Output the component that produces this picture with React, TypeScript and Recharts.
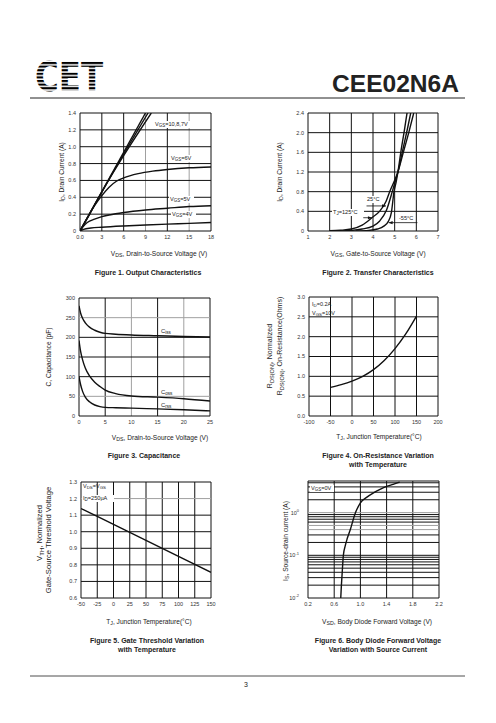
import React from "react";
import { LineChart, Line, XAxis, YAxis, ReferenceLine } from "recharts";

const FONT = '"Liberation Sans", Arial, Helvetica, sans-serif';
const INK = "#111";
const GREY = "#a0a0a0";

// Figure 1 - output characteristics
const F1_X_TICKS = [0, 3, 6, 9, 12, 15, 18];
const F1_X_LABELS = ["0.0", "3", "6", "9", "12", "15", "18"];
const F1_Y_TICKS = [0, 0.2, 0.4, 0.6, 0.8, 1.0, 1.2, 1.4];
const F1_Y_LABELS = ["0", "0.2", "0.4", "0.6", "0.8", "1.0", "1.2", "1.4"];
const F1_VDS_10V = [0, 9.0];
const F1_ID_10V = [0, 1.4];
const F1_VDS_8V = [0, 4.5, 9.35];
const F1_ID_8V = [0, 0.69, 1.4];
const F1_VDS_7V = [0, 4.5, 9.8];
const F1_ID_7V = [0, 0.685, 1.4];
const F1_VDS_6V = [0, 1, 2, 3, 4, 5, 6, 8, 10, 12, 15, 18];
const F1_ID_6V = [0, 0.15, 0.3, 0.42, 0.52, 0.59, 0.63, 0.68, 0.71, 0.73, 0.75, 0.76];
const F1_VDS_5V = [0, 0.5, 1, 2, 3, 4, 6, 9, 12, 15, 18];
const F1_ID_5V = [0, 0.06, 0.1, 0.14, 0.17, 0.19, 0.22, 0.25, 0.27, 0.29, 0.3];
const F1_VDS_4V = [0, 0.5, 1.5, 3, 6, 9, 12, 15, 18];
const F1_ID_4V = [0, 0.02, 0.035, 0.045, 0.06, 0.072, 0.082, 0.09, 0.1];

// Figure 2 - transfer characteristics
const F2_X_TICKS = [1, 2, 3, 4, 5, 6, 7];
const F2_X_LABELS = ["1", "2", "3", "4", "5", "6", "7"];
const F2_Y_TICKS = [0, 0.4, 0.8, 1.2, 1.6, 2.0, 2.4];
const F2_Y_LABELS = ["0", "0.4", "0.8", "1.2", "1.6", "2.0", "2.4"];
const F2_VGS_125C = [2, 2.5, 3, 3.5, 3.95, 4.3, 4.6, 4.77, 5.0, 5.15, 5.4, 5.65, 5.88];
const F2_ID_125C = [0.005, 0.015, 0.04, 0.12, 0.27, 0.4, 0.6, 0.8, 1.03, 1.2, 1.6, 2.0, 2.4];
const F2_VGS_25C = [2.5, 3, 3.5, 4, 4.3, 4.62, 4.89, 5.0, 5.15, 5.4, 5.6, 5.74];
const F2_ID_25C = [0.003, 0.012, 0.04, 0.1, 0.2, 0.42, 0.8, 0.97, 1.2, 1.7, 2.1, 2.4];
const F2_VGS_M55C = [3.2, 3.8, 4.2, 4.5, 4.7, 4.85, 4.97, 5.07, 5.15, 5.3, 5.45, 5.57];
const F2_ID_M55C = [0.002, 0.012, 0.04, 0.1, 0.19, 0.38, 0.8, 1.0, 1.2, 1.65, 2.05, 2.4];

// Figure 3 - capacitance
const F3_X_TICKS = [0, 5, 10, 15, 20, 25];
const F3_X_LABELS = ["0", "5", "10", "15", "20", "25"];
const F3_Y_TICKS = [0, 50, 100, 150, 200, 250, 300];
const F3_Y_LABELS = ["0", "50", "100", "150", "200", "250", "300"];
const F3_VDS = [0, 0.3, 0.7, 1.2, 2, 3, 4, 5, 7, 10, 15, 20, 25];
const F3_CISS = [280, 262, 248, 237, 226, 218, 213, 210, 208, 206, 204, 202, 201];
const F3_COSS = [192, 165, 142, 122, 102, 86, 75, 66, 57, 51, 48, 44, 38];
const F3_CRSS = [100, 80, 62, 48, 36, 28, 24, 22, 21, 20, 18, 16, 13];

// Figure 4 - on-resistance vs temperature
const F4_X_TICKS = [-100, -50, 0, 50, 100, 150, 200];
const F4_X_LABELS = ["-100", "-50", "0", "50", "100", "150", "200"];
const F4_Y_TICKS = [0, 0.5, 1.0, 1.5, 2.0, 2.5, 3.0];
const F4_Y_LABELS = ["0.0", "0.5", "1.0", "1.5", "2.0", "2.5", "3.0"];
const F4_TJ = [-50, -25, 0, 25, 50, 75, 100, 125, 150];
const F4_RDS = [0.72, 0.79, 0.88, 1.0, 1.17, 1.4, 1.7, 2.07, 2.52];

// Figure 5 - gate threshold vs temperature
const F5_X_TICKS = [-50, -25, 0, 25, 50, 75, 100, 125, 150];
const F5_X_LABELS = ["-50", "-25", "0", "25", "50", "75", "100", "125", "150"];
const F5_Y_TICKS = [0.6, 0.7, 0.8, 0.9, 1.0, 1.1, 1.2, 1.3];
const F5_Y_LABELS = ["0.6", "0.7", "0.8", "0.9", "1.0", "1.1", "1.2", "1.3"];
const F5_TJ = [-50, 0, 50, 100, 150];
const F5_VTH = [1.14, 1.044, 0.948, 0.851, 0.755];

// Figure 6 - body diode forward voltage
const F6_X_TICKS = [0.2, 0.6, 1.0, 1.4, 1.8, 2.2];
const F6_X_LABELS = ["0.2", "0.6", "1.0", "1.4", "1.8", "2.2"];
const F6_Y_TICKS = [0.01, 0.1, 1];
const F6_Y_EXPONENTS = ["-2", "-1", "0"];
const F6_Y_GRID = [0.01, 0.02, 0.03, 0.04, 0.05, 0.06, 0.07, 0.08, 0.09, 0.1, 0.2, 0.3, 0.4, 0.5, 0.6, 0.7, 0.8, 0.9, 1, 2, 3, 4, 5, 5.5];
const F6_VSD = [0.7, 0.71, 0.72, 0.74, 0.77, 0.8, 0.85, 0.92, 1.0, 1.1, 1.2, 1.3, 1.4, 1.5, 1.6];
const F6_IS = [0.01, 0.02, 0.035, 0.1, 0.17, 0.25, 0.42, 0.95, 1.7, 2.3, 2.9, 3.5, 4.1, 4.6, 5.2];

type Series = { x: number[]; y: number[] };

const toPts = (xs: number[], ys: number[]) => xs.map((x, i) => ({ x, y: ys[i] }));

const arrowLine = (p: any) => {
  const { x1, y1, x2, y2 } = p;
  const d = x2 > x1 ? 1 : -1;
  return (
    <g>
      <line x1={x1} y1={y1} x2={x2} y2={y2} stroke={INK} strokeWidth={0.8} />
      <path d={`M${x2},${y2} L${x2 - d * 4},${y2 - 1.6} L${x2 - d * 4},${y2 + 1.6} Z`} fill={INK} />
    </g>
  );
};

const logTick = (props: any) => {
  const { x, y, payload } = props;
  const exp = F6_Y_EXPONENTS[F6_Y_TICKS.indexOf(payload.value)];
  return (
    <text x={x - 5} y={y + 2} textAnchor="end" fontSize={5.5} fontFamily={FONT} fill="#333">
      10
      <tspan dy={-2.6} fontSize={4}>
        {exp}
      </tspan>
    </text>
  );
};

function Plot(props: {
  left: number;
  top: number;
  w: number;
  h: number;
  xDomain: [number, number];
  yDomain: [number, number];
  xTicks: number[];
  xLabels: string[];
  yTicks: number[];
  yLabels?: string[];
  xGrid: number[];
  yGrid: number[];
  xGrey?: number[];
  yGrey?: number[];
  series: Series[];
  log?: boolean;
  children?: React.ReactNode;
}) {
  const { left, top, w, h, xGrey = [], yGrey = [] } = props;
  const tickStyle = { fontSize: 5.5, fill: "#333", fontFamily: FONT };
  return (
    <div style={{ position: "absolute", left: left - 30, top: top - 5 }}>
      <LineChart width={w + 35} height={h + 20} margin={{ top: 5, right: 5, bottom: 0, left: 0 }}>
        <XAxis
          type="number"
          dataKey="x"
          domain={props.xDomain}
          ticks={props.xTicks}
          tickFormatter={(v) => props.xLabels[props.xTicks.indexOf(v)]}
          interval={0}
          allowDataOverflow
          tickLine={false}
          axisLine={false}
          tickSize={4}
          tickMargin={0}
          height={15}
          tick={tickStyle}
        />
        <YAxis
          type="number"
          dataKey="y"
          scale={props.log ? "log" : "linear"}
          domain={props.yDomain}
          ticks={props.yTicks}
          tickFormatter={(v) => (props.yLabels ? props.yLabels[props.yTicks.indexOf(v)] : String(v))}
          interval={0}
          allowDataOverflow
          tickLine={false}
          axisLine={false}
          tickSize={4}
          tickMargin={0}
          width={30}
          tick={props.log ? logTick : tickStyle}
        />
        {props.xGrid.map((v) => (
          <ReferenceLine key={"gx" + v} x={v} stroke={xGrey.includes(v) ? GREY : INK} strokeWidth={1} />
        ))}
        {props.yGrid.map((v) => (
          <ReferenceLine key={"gy" + v} y={v} stroke={yGrey.includes(v) ? GREY : INK} strokeWidth={1} />
        ))}
        {props.series.map((s, i) => (
          <Line
            key={i}
            data={toPts(s.x, s.y)}
            dataKey="y"
            type="monotone"
            stroke={INK}
            strokeWidth={1.4}
            dot={false}
            isAnimationActive={false}
          />
        ))}
        {props.children}
      </LineChart>
    </div>
  );
}

type Part = [string, ("sub" | "sup")?];

function Txt({
  x,
  y,
  parts,
  size = 6.6,
  anchor = "middle",
  rotate = false,
  weight = "normal",
  fill = "#222",
}: {
  x: number;
  y: number;
  parts: Part[];
  size?: number;
  anchor?: "start" | "middle" | "end";
  rotate?: boolean;
  weight?: string;
  fill?: string;
}) {
  let shift = 0;
  const spans = parts.map(([s, k], i) => {
    const target = k === "sub" ? size * 0.22 : k === "sup" ? -size * 0.4 : 0;
    const dy = target - shift;
    shift = target;
    return (
      <tspan key={i} dy={dy} fontSize={k ? size * 0.8 : size}>
        {s}
      </tspan>
    );
  });
  return (
    <text
      x={x}
      y={y}
      textAnchor={anchor}
      fontSize={size}
      fontFamily={FONT}
      fontWeight={weight}
      fill={fill}
      transform={rotate ? `rotate(-90 ${x} ${y})` : undefined}
    >
      {spans}
    </text>
  );
}

function Tag({ x, y, w, parts }: { x: number; y: number; w: number; parts: Part[] }) {
  return (
    <g>
      <rect x={x - 1} y={y - 5} width={w} height={7} fill="#fff" />
      <Txt x={x} y={y} parts={parts} size={5.6} anchor="start" />
    </g>
  );
}

export default function App() {
  return (
    <div style={{ position: "absolute", left: 0, top: 0, width: 496, height: 723, background: "#fff" }}>
      <Plot
        left={80}
        top={113}
        w={131}
        h={118}
        xDomain={[0, 18]}
        yDomain={[0, 1.4]}
        xTicks={F1_X_TICKS}
        xLabels={F1_X_LABELS}
        yTicks={F1_Y_TICKS}
        yLabels={F1_Y_LABELS}
        xGrid={F1_X_TICKS}
        yGrid={F1_Y_TICKS}
        xGrey={[9, 15]}
        series={[
          { x: F1_VDS_10V, y: F1_ID_10V },
          { x: F1_VDS_8V, y: F1_ID_8V },
          { x: F1_VDS_7V, y: F1_ID_7V },
          { x: F1_VDS_6V, y: F1_ID_6V },
          { x: F1_VDS_5V, y: F1_ID_5V },
          { x: F1_VDS_4V, y: F1_ID_4V },
        ]}
      />
      <Plot
        left={308}
        top={113}
        w={130}
        h={118}
        xDomain={[1, 7]}
        yDomain={[0, 2.4]}
        xTicks={F2_X_TICKS}
        xLabels={F2_X_LABELS}
        yTicks={F2_Y_TICKS}
        yLabels={F2_Y_LABELS}
        xGrid={F2_X_TICKS}
        yGrid={F2_Y_TICKS}
        series={[
          { x: F2_VGS_125C, y: F2_ID_125C },
          { x: F2_VGS_25C, y: F2_ID_25C },
          { x: F2_VGS_M55C, y: F2_ID_M55C },
        ]}
      >
        <ReferenceLine segment={[{ x: 3.7, y: 0.51 }, { x: 4.6, y: 0.51 }]} shape={arrowLine} />
        <ReferenceLine segment={[{ x: 3.55, y: 0.27 }, { x: 3.95, y: 0.27 }]} shape={arrowLine} />
        <ReferenceLine segment={[{ x: 6.05, y: 0.17 }, { x: 4.72, y: 0.17 }]} shape={arrowLine} />
      </Plot>
      <Plot
        left={79}
        top={298}
        w={131}
        h={118}
        xDomain={[0, 25]}
        yDomain={[0, 300]}
        xTicks={F3_X_TICKS}
        xLabels={F3_X_LABELS}
        yTicks={F3_Y_TICKS}
        yLabels={F3_Y_LABELS}
        xGrid={F3_X_TICKS}
        yGrid={F3_Y_TICKS}
        xGrey={[10, 20]}
        yGrey={[50, 250]}
        series={[
          { x: F3_VDS, y: F3_CISS },
          { x: F3_VDS, y: F3_COSS },
          { x: F3_VDS, y: F3_CRSS },
        ]}
      />
      <Plot
        left={309}
        top={297}
        w={129}
        h={119}
        xDomain={[-100, 200]}
        yDomain={[0, 3]}
        xTicks={F4_X_TICKS}
        xLabels={F4_X_LABELS}
        yTicks={F4_Y_TICKS}
        yLabels={F4_Y_LABELS}
        xGrid={F4_X_TICKS}
        yGrid={F4_Y_TICKS}
        series={[{ x: F4_TJ, y: F4_RDS }]}
      />
      <Plot
        left={81}
        top={482}
        w={130}
        h={116}
        xDomain={[-50, 150]}
        yDomain={[0.6, 1.3]}
        xTicks={F5_X_TICKS}
        xLabels={F5_X_LABELS}
        yTicks={F5_Y_TICKS}
        yLabels={F5_Y_LABELS}
        xGrid={F5_X_TICKS}
        yGrid={F5_Y_TICKS}
        yGrey={[1.2]}
        series={[{ x: F5_TJ, y: F5_VTH }]}
      />
      <Plot
        left={308}
        top={481}
        w={131}
        h={117}
        xDomain={[0.2, 2.2]}
        yDomain={[0.01, 5.5]}
        log
        xTicks={F6_X_TICKS}
        xLabels={F6_X_LABELS}
        yTicks={F6_Y_TICKS}
        xGrid={F6_X_TICKS}
        yGrid={F6_Y_GRID}
        yGrey={[1, 0.4, 0.5]}
        series={[{ x: F6_VSD, y: F6_IS }]}
      />

      <svg
        width={496}
        height={723}
        style={{ position: "absolute", left: 0, top: 0, pointerEvents: "none" }}
      >
        <defs>
          <pattern id="stripes" patternUnits="userSpaceOnUse" x={0} y={62} width={4} height={3.6}>
            <rect width={4} height={2.1} fill="#000" />
          </pattern>
        </defs>
        {/* header */}
        <text
          x={35}
          y={91}
          fontFamily="DejaVu Sans"
          fontWeight="bold"
          fontSize={40}
          textLength={68}
          lengthAdjust="spacingAndGlyphs"
          fill="url(#stripes)"
        >
          CET
        </text>
        <text
          x={459}
          y={92}
          textAnchor="end"
          fontFamily={FONT}
          fontWeight="bold"
          fontSize={23}
          textLength={127}
          lengthAdjust="spacingAndGlyphs"
          fill="#222"
        >
          CEE02N6A
        </text>
        <line x1={30} y1={98} x2={465} y2={98} stroke="#222" strokeWidth={1} />

        {/* figure 1 */}
        <Tag x={155} y={126} w={40} parts={[["V"], ["GS", "sub"], ["=10,8,7V"]]} />
        <Tag x={171} y={160} w={25} parts={[["V"], ["GS", "sub"], ["=6V"]]} />
        <Tag x={170} y={201} w={25} parts={[["V"], ["GS", "sub"], ["=5V"]]} />
        <Tag x={172} y={216} w={25} parts={[["V"], ["GS", "sub"], ["=4V"]]} />
        <Txt x={64} y={172} rotate parts={[["I"], ["D", "sub"], [", Drain Current (A)"]]} />
        <Txt x={159} y={256} parts={[["V"], ["DS", "sub"], [", Drain-to-Source Voltage (V)"]]} />
        <Txt x={148} y={275} size={7} weight="bold" parts={[["Figure 1. Output Characteristics"]]} />

        {/* figure 2 */}
        <Tag x={367} y={201} w={15} parts={[["25°C"]]} />
        <Tag x={333} y={214} w={32} parts={[["T"], ["J", "sub"], ["=125°C"]]} />
        <Tag x={399} y={220} w={17} parts={[["-55°C"]]} />
        <Txt x={282} y={172} rotate parts={[["I"], ["D", "sub"], [", Drain Current (A)"]]} />
        <Txt x={378} y={256} parts={[["V"], ["GS", "sub"], [", Gate-to-Source Voltage (V)"]]} />
        <Txt x={378} y={275} size={7} weight="bold" parts={[["Figure 2. Transfer Characteristics"]]} />

        {/* figure 3 */}
        <Txt x={161} y={333} size={5.8} anchor="start" parts={[["C"], ["iss", "sub"]]} />
        <Txt x={161} y={394} size={5.8} anchor="start" parts={[["C"], ["oss", "sub"]]} />
        <Txt x={161} y={407} size={5.8} anchor="start" parts={[["C"], ["rss", "sub"]]} />
        <Txt x={51} y={357} rotate parts={[["C, Capacitance (pF)"]]} />
        <Txt x={160} y={440} parts={[["V"], ["DS", "sub"], [", Drain-to-Source Voltage (V)"]]} />
        <Txt x={144} y={458} size={7} weight="bold" parts={[["Figure 3. Capacitance"]]} />

        {/* figure 4 */}
        <Txt x={312} y={306} size={5.5} anchor="start" parts={[["I"], ["D", "sub"], ["=0.2A"]]} />
        <Txt x={312} y={315} size={5.5} anchor="start" parts={[["V"], ["GS", "sub"], ["=10V"]]} />
        <Txt x={272} y={356} size={7} rotate parts={[["R"], ["DS(ON)", "sub"], [", Normalized"]]} />
        <Txt x={282} y={346} size={7} rotate parts={[["R"], ["DS(ON)", "sub"], [", On-Resistance(Ohms)"]]} />
        <Txt x={379} y={439} parts={[["T"], ["J", "sub"], [", Junction Temperature(°C)"]]} />
        <Txt x={378} y={458} size={7} weight="bold" parts={[["Figure 4. On-Resistance Variation"]]} />
        <Txt x={378} y={467} size={7} weight="bold" parts={[["with Temperature"]]} />

        {/* figure 5 */}
        <Txt x={83} y={488} size={5.5} anchor="start" parts={[["V"], ["DS", "sub"], ["=V"], ["GS", "sub"]]} />
        <Tag x={83} y={500} w={32} parts={[["I"], ["D", "sub"], ["=250µA"]]} />
        <Txt x={42} y={533} size={7.6} rotate parts={[["V"], ["TH", "sub"], [", Normalized"]]} />
        <Txt x={51} y={540} size={7.6} rotate parts={[["Gate-Source Threshold Voltage"]]} />
        <Txt x={149} y={624} parts={[["T"], ["J", "sub"], [", Junction Temperature(°C)"]]} />
        <Txt x={147} y={643} size={7} weight="bold" parts={[["Figure 5. Gate Threshold Variation"]]} />
        <Txt x={147} y={652} size={7} weight="bold" parts={[["with Temperature"]]} />

        {/* figure 6 */}
        <Tag x={311} y={490} w={24} parts={[["V"], ["GS", "sub"], ["=0V"]]} />
        <Txt x={288} y={541} rotate parts={[["I"], ["S", "sub"], [", Source-drain current (A)"]]} />
        <Txt x={377} y={624} parts={[["V"], ["SD", "sub"], [", Body Diode Forward Voltage (V)"]]} />
        <Txt x={378} y={643} size={7} weight="bold" parts={[["Figure 6. Body Diode Forward Voltage"]]} />
        <Txt x={378} y={652} size={7} weight="bold" parts={[["Variation with Source Current"]]} />

        {/* footer */}
        <line x1={30} y1={676} x2={465} y2={676} stroke="#222" strokeWidth={0.8} />
        <Txt x={246} y={687} size={7} parts={[["3"]]} />
      </svg>
    </div>
  );
}
